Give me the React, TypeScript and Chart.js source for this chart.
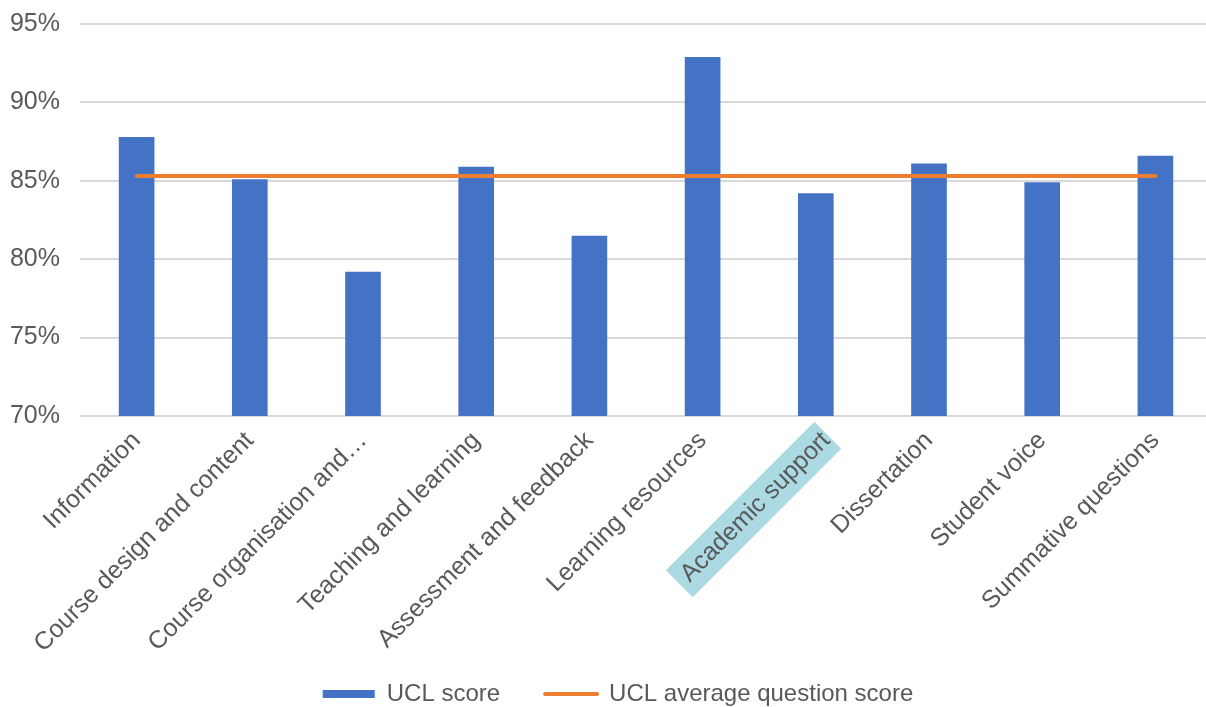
import React, { useEffect, useRef } from "react";
import { Chart, registerables } from "chart.js";

Chart.register(...registerables);

const categories = [
  "Information",
  "Course design and content",
  "Course organisation and…",
  "Teaching and learning",
  "Assessment and feedback",
  "Learning resources",
  "Academic support",
  "Dissertation",
  "Student voice",
  "Summative questions",
];

const uclScore = [87.8, 85.1, 79.2, 85.9, 81.5, 92.9, 84.2, 86.1, 84.9, 86.6];
const uclAverage = [85.3, 85.3, 85.3, 85.3, 85.3, 85.3, 85.3, 85.3, 85.3, 85.3];

const highlightedIndex = 6;

const FONT = '"Liberation Sans", Arial, Helvetica, sans-serif';
const TEXT = "#595959";
const GRID = "#D9D9D9";
const BLUE = "#4472C4";
const ORANGE = "#ED7D31";
const LEGEND_TOP = 637;

// Lets the legend sit a little higher so the rotated category labels keep room.
const legendPlacement = {
  id: "legendPlacement",
  afterLayout(chart: any) {
    const l = chart.legend;
    if (!l) return;
    const h = l.height;
    l.top = LEGEND_TOP;
    l.bottom = LEGEND_TOP + h;
  },
};

export default function App() {
  const canvasRef = useRef<HTMLCanvasElement | null>(null);

  useEffect(() => {
    document.body.style.margin = "0";
    document.body.style.overflow = "hidden";
    const canvas = canvasRef.current;
    if (!canvas) return;

    const chart = new Chart(canvas, {
      type: "bar",
      data: {
        labels: categories,
        datasets: [
          {
            type: "bar",
            label: "UCL score",
            data: uclScore,
            backgroundColor: BLUE,
            borderColor: BLUE,
            borderWidth: 0,
            categoryPercentage: 1,
            barPercentage: 0.315,
            order: 1,
          },
          {
            type: "line",
            label: "UCL average question score",
            data: uclAverage,
            borderColor: ORANGE,
            backgroundColor: ORANGE,
            borderWidth: 4,
            borderCapStyle: "round",
            pointRadius: 0,
            pointHoverRadius: 0,
            fill: false,
            order: 0,
          } as any,
        ],
      },
      plugins: [legendPlacement],
      options: {
        animation: false,
        responsive: true,
        maintainAspectRatio: false,
        layout: { padding: { left: 0, right: 0, top: 24, bottom: -38 } },
        font: { family: FONT, size: 24 },
        plugins: {
          tooltip: { enabled: false },
          legend: {
            position: "bottom",
            labels: {
              usePointStyle: true,
              pointStyleWidth: 52,
              boxHeight: 8,
              padding: 45,
              color: TEXT,
              font: { family: FONT, size: 24 },
              sort: (a: any, b: any) => a.datasetIndex - b.datasetIndex,
              generateLabels: (c: any) => {
                const items = Chart.defaults.plugins.legend.labels.generateLabels(c);
                return items.map((it: any) => {
                  if (it.datasetIndex === 0) {
                    return { ...it, pointStyle: "rect", lineWidth: 0 };
                  }
                  return { ...it, pointStyle: "line", lineWidth: 4, lineCap: "round" };
                });
              },
            },
          },
        },
        scales: {
          x: {
            offset: true,
            grid: { display: false },
            border: { display: false },
            afterFit: (scale: any) => {
              scale.height = 250;
            },
            ticks: {
              autoSkip: false,
              maxRotation: 45,
              minRotation: 45,
              padding: 2,
              color: TEXT,
              font: { family: FONT, size: 25 },
              showLabelBackdrop: (ctx: any) => ctx.index === highlightedIndex,
              backdropColor: "#ABDAE2",
              backdropPadding: { top: 4, bottom: 4, left: 8, right: 2 },
            },
          },
          y: {
            min: 70,
            max: 95,
            afterFit: (scale: any) => {
              scale.width = 80;
              scale.paddingTop = 0;
              scale.paddingBottom = 0;
            },
            grid: { color: GRID, lineWidth: 2, drawTicks: false },
            border: { display: false },
            ticks: {
              stepSize: 5,
              padding: 20,
              color: TEXT,
              font: { family: FONT, size: 25 },
              callback: (v: any) => `${v}%`,
            },
          },
          // empty right-hand gutter beside the plot
          gutter: {
            position: "right",
            grid: { display: false },
            border: { display: false },
            ticks: { display: false },
            afterFit: (scale: any) => {
              scale.width = 24;
              scale.paddingTop = 0;
              scale.paddingBottom = 0;
            },
          },
        },
      },
    });

    return () => chart.destroy();
  }, []);

  return (
    <div style={{ position: "relative", width: "1236px", height: "707px" }}>
      <canvas ref={canvasRef} />
    </div>
  );
}
